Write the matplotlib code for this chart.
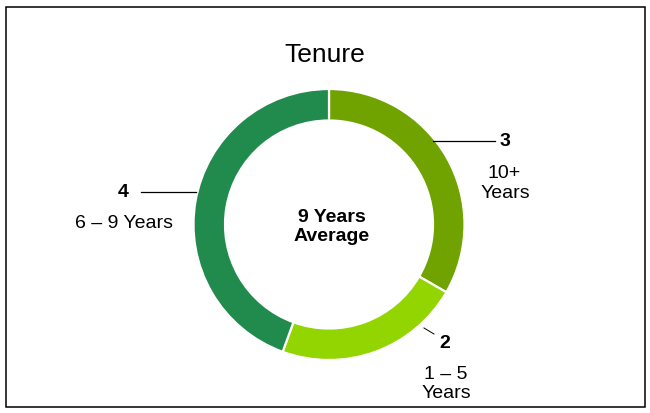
import matplotlib.pyplot as plt
from matplotlib.patches import Rectangle

plt.rcParams["font.family"] = ["Liberation Sans", "DejaVu Sans"]

# tenure groups, clockwise from 12 o'clock
counts = [3, 2, 4]
group_labels = [["10+", "Years"], ["1 \u2013 5", "Years"], ["6 \u2013 9 Years"]]
colors = ["#71A300", "#93D500", "#218A4D"]
title = "Tenure"
center_text = ["9 Years", "Average"]

W, H = 650, 413


def py(y):
    # pixel row (from top) -> data y
    return H - y


def tenure_plot(export_path: str = "out.png") -> None:
    fig = plt.figure(figsize=(W / 100, H / 100), dpi=100)
    ax = fig.add_axes([0, 0, 1, 1])
    ax.pie(counts, colors=colors, startangle=90, counterclock=False,
           center=(329, py(224.5)), radius=135.5,
           wedgeprops=dict(width=31.5, edgecolor="white", linewidth=1.6))
    ax.set_xlim(0, W)
    ax.set_ylim(0, H)
    ax.set_aspect("equal")
    ax.axis("off")

    # outer frame
    ax.add_patch(Rectangle((5.5, py(407)), 639.5, 400, fill=False,
                           edgecolor="black", linewidth=1.1))

    ax.text(324.5, py(62), title, fontsize=19, ha="center", va="baseline")
    ax.text(332, py(222), center_text[0], fontsize=14, fontweight="bold",
            ha="center", va="baseline")
    ax.text(332, py(241), center_text[1], fontsize=14, fontweight="bold",
            ha="center", va="baseline")

    # 10+ years
    ax.plot([433, 495], [py(140.5), py(140.5)], c="black", lw=0.9)
    ax.text(505, py(146), str(counts[0]), fontsize=14, fontweight="bold",
            ha="center", va="baseline")
    ax.text(504, py(178), group_labels[0][0], fontsize=14,
            ha="center", va="baseline")
    ax.text(505, py(198), group_labels[0][1], fontsize=14,
            ha="center", va="baseline")

    # 1 - 5 years
    ax.plot([424, 434], [py(328), py(334)], c="black", lw=0.7)
    ax.text(445, py(348), str(counts[1]), fontsize=14, fontweight="bold",
            ha="center", va="baseline")
    ax.text(446, py(379), group_labels[1][0], fontsize=14,
            ha="center", va="baseline")
    ax.text(446, py(398), group_labels[1][1], fontsize=14,
            ha="center", va="baseline")

    # 6 - 9 years
    ax.plot([141, 196], [py(192), py(192)], c="black", lw=0.9)
    ax.text(123.5, py(197), str(counts[2]), fontsize=14, fontweight="bold",
            ha="center", va="baseline")
    ax.text(124, py(228), group_labels[2][0], fontsize=14,
            ha="center", va="baseline")

    fig.savefig(export_path, dpi=100)


if __name__ == "__main__":
    tenure_plot()
